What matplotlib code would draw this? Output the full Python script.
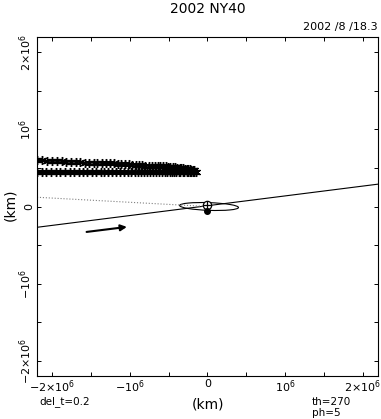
import matplotlib.pyplot as plt
from matplotlib.patches import Ellipse

# positions in units of 1e6 km
upper_x = [-2.20, -2.13, -2.07, -2.00, -1.94, -1.88, -1.82, -1.76, -1.70, -1.64,
           -1.58, -1.53, -1.47, -1.42, -1.36, -1.31, -1.26, -1.21, -1.16, -1.11,
           -1.06, -1.01, -0.97, -0.92, -0.88, -0.84, -0.80, -0.76, -0.72, -0.68,
           -0.64, -0.61, -0.57, -0.54, -0.51, -0.48, -0.45, -0.42, -0.39, -0.36,
           -0.34, -0.31, -0.29, -0.27, -0.25, -0.23, -0.21, -0.19, -0.17]
upper_y = [0.60, 0.60, 0.59, 0.59, 0.59, 0.59, 0.58, 0.58, 0.58, 0.58,
           0.57, 0.57, 0.57, 0.57, 0.56, 0.56, 0.56, 0.56, 0.55, 0.55,
           0.55, 0.55, 0.54, 0.54, 0.54, 0.54, 0.53, 0.53, 0.53, 0.53,
           0.52, 0.52, 0.52, 0.52, 0.51, 0.51, 0.51, 0.51, 0.50, 0.50,
           0.50, 0.50, 0.49, 0.49, 0.49, 0.49, 0.48, 0.48, 0.48]
lower_x = [-2.20, -2.14, -2.08, -2.02, -1.96, -1.90, -1.84, -1.78, -1.72, -1.66,
           -1.60, -1.55, -1.49, -1.44, -1.38, -1.33, -1.28, -1.23, -1.18, -1.13,
           -1.08, -1.03, -0.99, -0.94, -0.90, -0.86, -0.82, -0.78, -0.74, -0.70,
           -0.66, -0.62, -0.59, -0.55, -0.52, -0.49, -0.46, -0.43, -0.40, -0.37,
           -0.35, -0.32, -0.30, -0.27, -0.25, -0.23, -0.21, -0.19, -0.17, -0.15]
lower_y = [0.45, 0.45, 0.45, 0.45, 0.45, 0.45, 0.45, 0.45, 0.45, 0.45,
           0.45, 0.45, 0.45, 0.45, 0.45, 0.45, 0.45, 0.45, 0.45, 0.45,
           0.45, 0.45, 0.45, 0.45, 0.45, 0.45, 0.45, 0.45, 0.45, 0.45,
           0.45, 0.45, 0.45, 0.45, 0.45, 0.45, 0.45, 0.45, 0.45, 0.45,
           0.45, 0.45, 0.45, 0.45, 0.45, 0.45, 0.45, 0.45, 0.45, 0.45]
solid_x = [-2.2, 2.2]
solid_y = [-0.27, 0.29]
dotted_x = [-2.2, 0.0]
dotted_y = [0.12, 0.0]
orbit_center = (0.02, 0.0)
orbit_w, orbit_h, orbit_angle = 0.76, 0.10, -2
earth = (0.0, 0.02)
dot = (0.0, -0.06)
arrow_start = (-1.56, -0.33)
arrow_end = (-1.04, -0.265)

S = 1e6
tick_vals = [-2e6, -1e6, 0, 1e6, 2e6]
tick_text = [r'$-2{\times}10^6$', r'$-10^6$', '0', r'$10^6$', r'$2{\times}10^6$']
minor_vals = [-1.5e6, -0.5e6, 0.5e6, 1.5e6]

fig = plt.figure(figsize=(3.81, 4.19), dpi=100)
ax = fig.add_axes([37/381, 1 - 376/419, 341/381, 339/419])

ax.plot([v*S for v in solid_x], [v*S for v in solid_y], color='black', lw=0.8)
ax.plot([v*S for v in dotted_x], [v*S for v in dotted_y], color='0.5', lw=0.8, ls=':')
ax.add_patch(Ellipse((orbit_center[0]*S, orbit_center[1]*S), orbit_w*S, orbit_h*S,
                     angle=orbit_angle, fill=False, color='black', lw=0.8))
for xs, ys in [(upper_x, upper_y), (lower_x, lower_y)]:
    ax.plot([v*S for v in xs], [v*S for v in ys], color='black', lw=1.0,
            marker=(6, 2, 0), ms=6.5, mew=1.0)
ax.plot(earth[0]*S, earth[1]*S, 'o', mfc='white', mec='black', ms=6, mew=0.9)
ax.plot(earth[0]*S, earth[1]*S, '+', color='black', ms=6, mew=0.9)
ax.plot(dot[0]*S, dot[1]*S, 'o', color='black', ms=4)
ax.annotate('', xy=(arrow_end[0]*S, arrow_end[1]*S),
            xytext=(arrow_start[0]*S, arrow_start[1]*S),
            arrowprops=dict(arrowstyle='-|>', color='black', lw=1.5,
                            mutation_scale=9, shrinkA=0, shrinkB=0))

ax.set_xlim(-2.2e6, 2.2e6)
ax.set_ylim(-2.2e6, 2.2e6)
ax.set_xticks(tick_vals)
ax.set_xticklabels(tick_text)
ax.set_yticks(tick_vals)
ax.set_yticklabels(tick_text, rotation=90, va='center')
ax.set_xticks(minor_vals, minor=True)
ax.set_yticks(minor_vals, minor=True)
ax.tick_params(which='both', direction='in', top=True, right=True,
               length=3, width=0.7, labelsize=8, pad=2)
for sp in ax.spines.values():
    sp.set_linewidth(0.8)

fig.text(208/381, 1 - 9/419, '2002 NY40', ha='center', va='center', fontsize=10)
fig.text(378/381, 1 - 27/419, '2002 /8 /18.3', ha='right', va='center', fontsize=8)
fig.text(208/381, 1 - 404/419, '(km)', ha='center', va='center', fontsize=10)
fig.text(10/381, 1 - 205/419, '(km)', ha='center', va='center', fontsize=10, rotation=90)
fig.text(39/381, 1 - 402/419, 'del_t=0.2', ha='left', va='center', fontsize=7.5)
fig.text(312/381, 1 - 402/419, 'th=270', ha='left', va='center', fontsize=7.5)
fig.text(312/381, 1 - 413/419, 'ph=5', ha='left', va='center', fontsize=7.5)

fig.savefig('out.png', dpi=100)
